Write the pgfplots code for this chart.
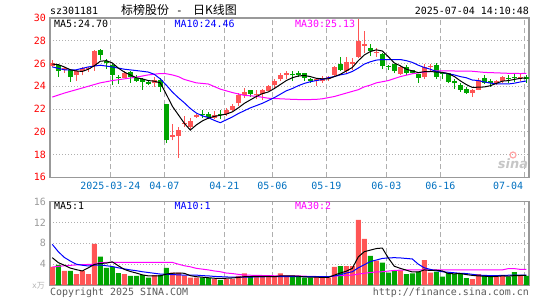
\documentclass[border=0pt]{standalone}
\usepackage{pgfplots}
\pgfplotsset{compat=1.18}
\usepackage{pgfplotstable}
\usepackage{fontspec}
\setmainfont{DejaVu Sans}
\newfontfamily\mono{DejaVu Sans Mono}
\newfontfamily\cjk{Noto Sans CJK SC}

\definecolor{cred}{RGB}{255,85,85}
\definecolor{cgreen}{RGB}{0,165,0}
\definecolor{framec}{RGB}{153,153,153}
\definecolor{gridc}{RGB}{175,175,175}
\definecolor{datec}{RGB}{0,112,192}
\definecolor{ma10}{RGB}{0,0,255}
\definecolor{ma30}{RGB}{255,0,255}
\definecolor{foot}{RGB}{90,90,90}

% candles: x = trading day index (0 = 2025-03-10)
% x open close low high
\pgfplotstableread{
x o c l h
0 25.80 26.05 25.70 26.30
2 25.40 25.60 25.20 25.70
4 24.95 25.35 24.45 25.40
5 25.35 25.60 24.95 25.70
6 25.50 25.60 25.25 25.65
7 25.76 27.10 25.35 27.20
12 24.75 25.20 24.70 25.30
17 24.25 24.55 23.95 24.80
20 19.55 19.70 19.25 20.65
21 19.60 20.20 17.70 20.40
22 20.70 20.80 20.40 21.40
23 20.45 20.95 20.20 21.25
24 21.30 21.45 21.20 21.60
27 21.20 21.50 21.10 21.80
29 21.55 21.90 21.40 22.10
30 21.90 22.25 21.80 22.40
31 22.50 23.20 22.30 23.40
32 23.20 23.50 23.00 23.85
34 23.20 23.35 22.85 23.70
35 23.30 23.65 22.75 23.80
36 23.60 24.00 23.60 24.15
37 24.10 24.45 23.85 24.60
38 24.60 24.95 24.45 25.15
39 24.95 25.15 24.60 25.30
44 24.50 24.60 24.05 24.70
45 24.45 24.75 24.30 24.90
46 24.60 24.80 24.45 24.90
47 24.95 25.65 24.85 25.75
49 25.30 26.10 25.15 26.55
50 25.95 26.10 25.40 26.45
51 26.60 28.00 26.45 29.95
52 27.55 27.75 26.90 28.85
54 26.93 27.00 26.60 27.35
58 25.10 25.65 25.00 25.75
62 24.80 25.70 24.65 25.95
63 25.70 25.80 25.25 25.95
70 23.40 23.70 23.10 23.80
71 23.70 24.55 23.65 24.70
74 24.25 24.45 24.10 24.55
75 24.45 24.80 24.30 24.90
78 24.75 24.85 24.45 25.10
}\upk

\pgfplotstableread{
x o c l h
1 25.90 25.30 24.80 26.00
3 25.45 24.80 24.40 25.50
8 27.15 26.75 26.30 27.25
9 26.20 26.05 25.50 26.40
10 25.85 24.97 24.10 26.00
11 24.80 24.70 24.20 25.00
13 25.25 24.85 24.30 25.30
14 24.75 24.50 24.40 25.00
15 24.60 24.40 23.70 24.70
16 24.40 24.20 24.10 24.55
18 24.55 23.90 23.50 24.70
19 22.40 19.30 19.00 22.40
25 21.60 21.50 21.20 21.90
26 21.60 21.30 21.10 21.70
28 21.60 21.50 21.10 21.90
33 23.70 23.35 23.10 23.70
40 25.05 24.95 24.45 25.30
41 25.20 24.95 24.80 25.30
42 25.15 24.75 24.50 25.20
43 24.60 24.50 24.30 24.70
48 25.95 25.45 25.30 26.60
53 27.35 27.10 26.65 27.70
55 26.80 25.75 25.50 26.90
56 25.80 25.65 25.45 25.90
57 26.00 25.30 25.15 26.00
59 25.65 25.15 24.95 25.90
60 25.40 25.20 25.10 25.45
61 25.10 24.75 24.30 25.10
64 25.85 24.80 24.65 26.05
65 25.15 25.05 24.60 25.25
66 25.20 24.40 24.25 25.20
67 24.45 24.25 23.80 24.60
68 24.10 23.70 23.50 24.25
69 23.80 23.40 23.30 23.90
72 24.70 24.30 24.20 24.95
73 24.45 24.25 23.95 24.60
76 24.76 24.68 24.25 24.95
77 24.85 24.75 24.40 25.10
79 24.85 24.60 24.30 24.95
}\downk

\pgfplotsset{
  kbase/.style={
    scale only axis, width=479bp,
    xmin=-0.383, xmax=79.45,
    axis line style={draw=framec, line width=1.2bp},
    major tick length=0pt, tick style={draw=none},
    xtick={9.67,18.67,28.67,36.67,45.67,55.67,64.67,78.67},
    xmajorgrids, ymajorgrids,
    x grid style={gridc, line width=1.2bp, dash pattern=on 5bp off 3bp},
    y grid style={gridc, line width=1bp, dash pattern=on 1bp off 2bp},
    tick label style={font=\mono\fontsize{10}{12}\selectfont},
    /pgf/number format/assume math mode=true,
    yticklabel style={anchor=east, inner sep=0pt, xshift=-4bp},
  },
  wick/.style={draw=none, mark=none, forget plot,
    error bars/.cd, y dir=plus, y explicit, error mark=none,
    error bar style={draw=#1, line width=1bp}},
  body/.style={draw=none, mark=none, forget plot,
    error bars/.cd, y dir=plus, y explicit, error mark=none,
    error bar style={draw=#1, line width=5bp}},
}

\begin{document}
\begin{tikzpicture}
\path[use as bounding box] (0,0) rectangle (545bp,-300bp);

% ---------- price panel ----------
\begin{axis}[kbase,
  anchor=north west, at={(50bp,-18bp)}, height=159.3bp,
  ymin=16, ymax=30, ytick={16,18,...,30},
  xticklabels={2025-03-24,04-07,04-21,05-06,05-19,06-03,06-16,{}},
  xticklabel style={datec, anchor=center, inner sep=0pt, yshift=-8.7bp},
  yticklabel style={red},
]
\addplot[wick=cred] table[x=x, y=l, y error plus expr=\thisrow{h}-\thisrow{l}] {\upk};
\addplot[body=cred] table[x=x, y=o, y error plus expr=\thisrow{c}-\thisrow{o}] {\upk};
\addplot[wick=cgreen] table[x=x, y=l, y error plus expr=\thisrow{h}-\thisrow{l}] {\downk};
\addplot[body=cgreen] table[x=x, y=c, y error plus expr=\thisrow{o}-\thisrow{c}] {\downk};

% MA30
\addplot[ma30, line width=1bp, sharp plot, no marks] coordinates {
(0,23.05) (2,23.4) (4,23.7) (6,24.0) (8,24.3) (10,24.5) (12,24.65) (14,24.8)
(16,25.0) (18,25.12) (19,25.1) (20,25.0) (21,24.85) (22,24.6) (23,24.45)
(24,24.3) (26,24.2) (28,23.75) (30,23.45) (32,23.2) (34,23.12) (36,22.95)
(38,22.9) (40,22.85) (42,22.82) (44,22.85) (45,22.9) (46,23.0) (47,23.1)
(48,23.25) (49,23.4) (50,23.55) (51,23.7) (52,23.95) (53,24.1) (54,24.3)
(56,24.5) (58,24.85) (60,25.1) (62,25.25) (64,25.35) (66,25.35) (70,25.32)
(72,25.22) (74,25.18) (76,25.14) (78,25.12) (79,25.13)};
% MA10
\addplot[ma10, line width=1bp, sharp plot, no marks] coordinates {
(0,25.7) (2,25.45) (4,25.45) (6,25.7) (8,25.85) (10,25.7) (12,25.5) (14,25.38)
(16,25.25) (17,25.05) (18,24.65) (19,24.1) (20,23.5) (21,23.0) (22,22.55)
(23,22.05) (24,21.65) (25,21.4) (26,21.25) (27,21.0) (28,20.8) (29,21.05)
(30,21.3) (31,21.6) (32,21.85) (33,22.1) (34,22.3) (35,22.5) (36,22.75)
(37,23.0) (38,23.3) (39,23.6) (40,23.8) (41,24.05) (42,24.25) (43,24.4)
(44,24.5) (45,24.6) (46,24.75) (47,24.85) (48,25.0) (49,25.1) (50,25.3)
(51,25.6) (52,25.95) (53,26.15) (54,26.3) (55,26.35) (56,26.35) (57,26.35)
(58,26.35) (59,26.25) (60,26.1) (61,25.85) (62,25.65) (63,25.5) (64,25.3)
(65,25.2) (66,25.1) (67,25.0) (68,24.85) (69,24.75) (70,24.55) (71,24.5)
(72,24.38) (73,24.28) (74,24.22) (75,24.2) (76,24.2) (77,24.27) (78,24.38)
(79,24.46)};
% MA5
\addplot[black, line width=1bp, sharp plot, no marks] coordinates {
(0,25.95) (1,25.9) (2,25.7) (3,25.45) (4,25.35) (5,25.3) (6,25.5) (7,25.8)
(8,26.2) (9,26.25) (10,26.05) (11,25.6) (12,25.25) (13,25.0) (14,24.75)
(15,24.65) (16,24.5) (17,24.45) (18,24.3) (19,23.3) (20,22.25) (21,21.5)
(22,20.75) (23,20.15) (24,20.6) (25,20.95) (26,21.2) (27,21.35) (28,21.45)
(29,21.55) (30,21.75) (31,22.1) (32,22.5) (33,22.8) (34,23.1) (35,23.35)
(36,23.5) (37,23.8) (38,24.15) (39,24.5) (40,24.75) (41,24.9) (42,24.95)
(43,24.85) (44,24.7) (45,24.65) (46,24.65) (47,24.85) (48,25.05) (49,25.35)
(50,25.65) (51,26.25) (52,26.75) (53,27.05) (54,27.2) (55,27.1) (56,26.6)
(57,26.05) (58,25.8) (59,25.5) (60,25.35) (61,25.2) (62,25.28) (63,25.3)
(64,25.25) (65,25.22) (66,25.12) (67,24.86) (68,24.48) (69,24.15) (70,23.9)
(71,23.92) (72,23.94) (73,24.05) (74,24.25) (75,24.45) (76,24.5) (77,24.6)
(78,24.7) (79,24.72)};
\end{axis}

% ---------- volume panel ----------
\begin{axis}[kbase,
  anchor=north west, at={(50bp,-201.7bp)}, height=83.3bp,
  ymin=0, ymax=16, ytick={4,8,12,16},
  xticklabels={},
  yticklabel style={framec},
]
\addplot[ybar, bar width=5bp, bar shift=0pt, fill=cred, draw=none] coordinates {
(0,3.5) (2,2.7) (4,2.1) (5,2.7) (6,2.1) (7,7.9) (12,2.1) (17,1.9) (20,2.4)
(21,2.4) (22,1.8) (23,1.4) (24,1.4) (27,1.15) (29,1.15) (30,1.15) (31,1.75)
(32,2.25) (34,1.6) (35,1.6) (36,1.6) (37,1.75) (38,2.25) (39,1.6) (44,1.6)
(45,1.4) (46,1.4) (47,3.5) (49,3.65) (50,3.65) (51,12.5) (52,8.85) (54,4.7)
(58,2.8) (62,4.8) (63,2.4) (70,1.15) (71,2.1) (74,1.6) (75,1.75) (78,1.75)};
\addplot[ybar, bar width=5bp, bar shift=0pt, fill=cgreen, draw=none] coordinates {
(1,3.85) (3,2.7) (8,5.45) (9,3.3) (10,3.5) (11,2.3) (13,1.75) (14,1.75)
(15,1.9) (16,1.4) (18,1.9) (19,3.3) (25,1.4) (26,1.3) (28,1.0) (33,1.6)
(40,1.6) (41,1.6) (42,1.4) (43,1.4) (48,3.65) (53,5.6) (55,4.3) (56,2.4)
(57,2.8) (59,2.1) (60,2.25) (61,2.55) (64,2.55) (65,1.6) (66,2.4) (67,2.1)
(68,2.25) (69,1.3) (72,1.9) (73,1.6) (76,1.6) (77,2.45) (79,1.75)};

% volume MA30
\addplot[ma30, line width=1bp, sharp plot, no marks] coordinates {
(0,3.45) (2,3.7) (4,3.85) (7,4.0) (8,4.3) (10,4.35) (20,4.35) (21,4.0)
(22,3.7) (23,3.5) (24,3.2) (25,3.05) (26,2.9) (27,2.7) (28,2.55) (29,2.3)
(30,2.2) (31,2.05) (32,1.9) (34,1.85) (36,1.8) (38,1.75) (41,1.75) (43,1.65)
(46,1.6) (47,1.7) (48,1.8) (50,1.9) (51,2.1) (52,2.25) (53,2.4) (54,2.5)
(55,2.55) (57,2.8) (59,2.9) (75,2.9) (76,3.15) (77,3.15) (78,3.0) (79,3.0)};
% volume MA10
\addplot[ma10, line width=1bp, sharp plot, no marks] coordinates {
(0,7.8) (1,6.4) (2,5.3) (3,4.6) (4,4.0) (5,3.8) (6,3.65) (7,3.8) (8,3.85)
(9,3.7) (10,3.55) (11,3.3) (12,3.1) (13,2.9) (14,2.75) (15,2.55) (16,2.4)
(17,2.25) (18,2.1) (19,2.05) (20,2.0) (21,1.95) (22,1.9) (24,1.9) (25,1.8)
(26,1.75) (27,1.65) (28,1.6) (29,1.55) (30,1.5) (32,1.5) (34,1.55) (36,1.6)
(46,1.6) (47,1.75) (48,1.95) (49,2.3) (50,2.55) (51,3.3) (52,3.9) (53,4.5)
(54,4.8) (55,5.1) (56,5.2) (57,5.25) (58,5.2) (59,5.1) (60,5.0) (61,4.0)
(62,3.3) (63,3.0) (64,2.75) (65,2.55) (66,2.45) (67,2.35) (68,2.25) (69,2.2)
(70,2.05) (71,1.9) (72,1.85) (73,1.8) (74,1.8) (75,1.85) (77,1.9) (79,1.9)};
% volume MA5
\addplot[black, line width=1bp, sharp plot, no marks] coordinates {
(0,5.25) (1,4.3) (2,3.8) (3,3.25) (4,2.95) (5,2.7) (6,3.3) (7,3.95) (8,4.15)
(9,4.2) (10,4.45) (11,3.7) (12,3.0) (13,2.6) (14,2.3) (15,1.95) (16,1.75)
(18,1.75) (19,2.1) (20,2.25) (21,2.3) (22,2.25) (23,1.8) (24,1.6) (25,1.5)
(26,1.4) (27,1.3) (28,1.25) (29,1.3) (30,1.35) (31,1.45) (32,1.6) (34,1.65)
(36,1.65) (37,1.6) (38,1.75) (40,1.75) (41,1.7) (42,1.55) (44,1.5) (46,1.45)
(47,1.9) (48,2.3) (49,2.65) (50,3.2) (51,5.4) (52,6.4) (53,6.7) (54,7.0)
(55,7.1) (56,5.2) (57,3.6) (58,3.2) (59,2.85) (60,2.5) (61,2.5) (62,2.9)
(63,2.8) (64,2.85) (65,2.7) (66,2.2) (67,2.15) (68,2.2) (69,2.0) (70,1.85)
(71,1.75) (72,1.7) (73,1.6) (74,1.65) (75,1.75) (76,1.7) (77,1.8) (79,1.85)};
\end{axis}

% ---------- texts ----------
\begin{scope}[every node/.style={inner sep=0pt}]
\node[anchor=west] at (50bp,-11bp) {\mono\fontsize{10}{12}\selectfont sz301181};
\node[anchor=base west] at (121bp,-14bp) {\cjk\fontsize{12}{14}\selectfont 标榜股份};
\node[anchor=base] at (179.5bp,-14bp) {\mono\fontsize{11}{14}\selectfont -};
\node[anchor=base west] at (193bp,-14bp) {\cjk\fontsize{12}{14}\selectfont 日K线图};
\node[anchor=east] at (529bp,-11bp) {\mono\fontsize{10}{12}\selectfont 2025-07-04 14:10:48};

\node[text=datec] at (508bp,-186bp) {\mono\fontsize{10}{12}\selectfont 07-04};

\node[anchor=west] at (54bp,-24bp) {\mono\fontsize{10}{12}\selectfont MA5:24.70};
\node[anchor=west, text=ma10] at (174.5bp,-24bp) {\mono\fontsize{10}{12}\selectfont MA10:24.46};
\node[anchor=west, text=ma30] at (295bp,-24bp) {\mono\fontsize{10}{12}\selectfont MA30:25.13};

\node[anchor=west] at (54bp,-205.5bp) {\mono\fontsize{10}{12}\selectfont MA5:1};
\node[anchor=west, text=ma10] at (174.5bp,-205.5bp) {\mono\fontsize{10}{12}\selectfont MA10:1};
\node[anchor=west, text=ma30] at (295bp,-205.5bp) {\mono\fontsize{10}{12}\selectfont MA30:2};

\node[anchor=east, text=gray!60] at (45bp,-285.5bp) {\mono\fontsize{8}{9}\selectfont x\cjk 万};
\node[anchor=west, text=foot] at (50bp,-292.5bp) {\mono\fontsize{10}{12}\selectfont Copyright 2025 SINA.COM};
\node[anchor=east, text=foot] at (529bp,-292.5bp) {\mono\fontsize{10}{12}\selectfont http://finance.sina.com.cn};

\node[text=gray!45] at (513bp,-164bp) {\fontsize{13}{13}\selectfont\bfseries\itshape sina};
\draw[red!35, line width=1.2bp] (513bp,-155bp) circle (3bp);
\end{scope}
\end{tikzpicture}
\end{document}
